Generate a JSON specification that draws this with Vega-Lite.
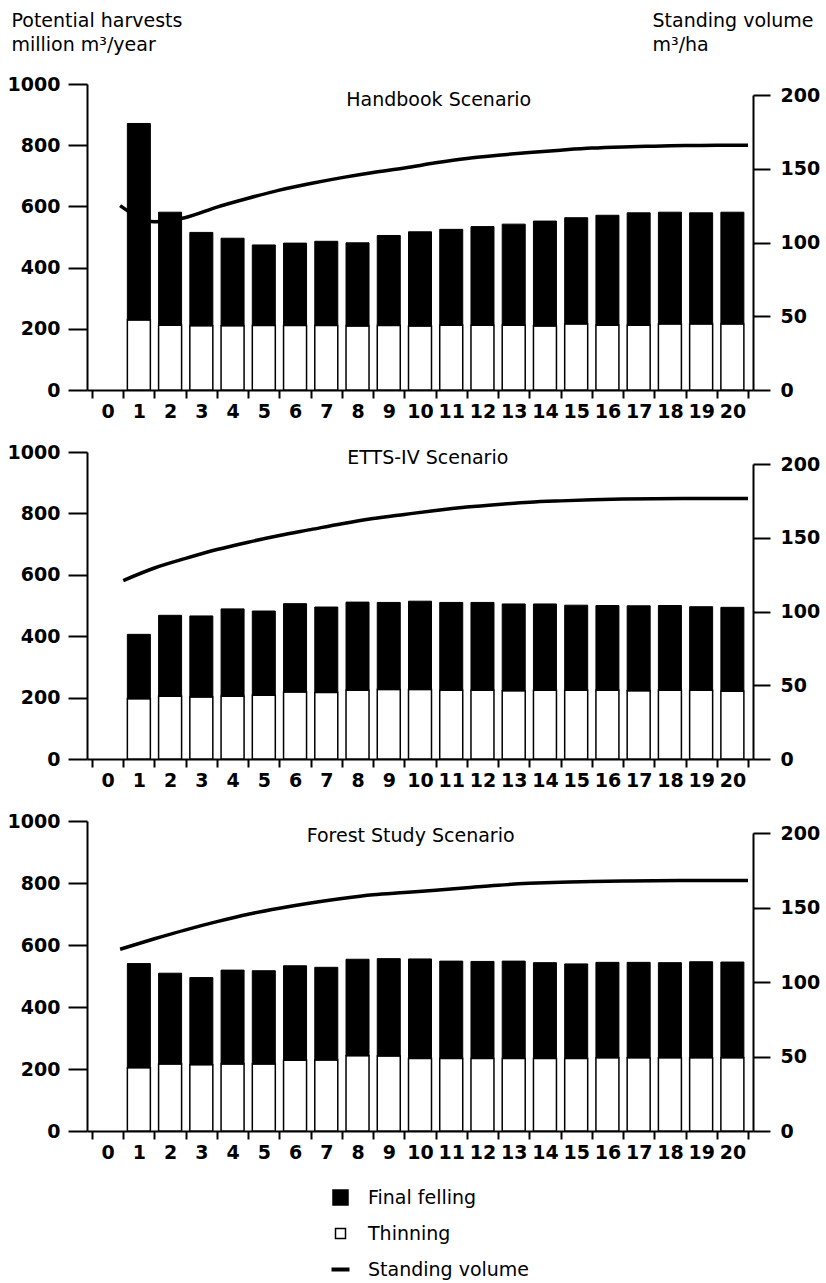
{
  "$schema": "https://vega.github.io/schema/vega-lite/v6.json",
  "padding": {"left": 7, "top": 11, "right": 5, "bottom": 5},
  "datasets": {
    "bars": [
      {"scenario": "Handbook Scenario", "period": 1, "thinning": 229, "total": 871},
      {"scenario": "Handbook Scenario", "period": 2, "thinning": 212, "total": 581},
      {"scenario": "Handbook Scenario", "period": 3, "thinning": 210, "total": 515},
      {"scenario": "Handbook Scenario", "period": 4, "thinning": 210, "total": 496},
      {"scenario": "Handbook Scenario", "period": 5, "thinning": 211, "total": 474},
      {"scenario": "Handbook Scenario", "period": 6, "thinning": 211, "total": 480},
      {"scenario": "Handbook Scenario", "period": 7, "thinning": 211, "total": 486},
      {"scenario": "Handbook Scenario", "period": 8, "thinning": 209, "total": 481},
      {"scenario": "Handbook Scenario", "period": 9, "thinning": 211, "total": 505},
      {"scenario": "Handbook Scenario", "period": 10, "thinning": 209, "total": 517},
      {"scenario": "Handbook Scenario", "period": 11, "thinning": 212, "total": 525},
      {"scenario": "Handbook Scenario", "period": 12, "thinning": 212, "total": 534},
      {"scenario": "Handbook Scenario", "period": 13, "thinning": 212, "total": 542},
      {"scenario": "Handbook Scenario", "period": 14, "thinning": 209, "total": 552},
      {"scenario": "Handbook Scenario", "period": 15, "thinning": 216, "total": 563},
      {"scenario": "Handbook Scenario", "period": 16, "thinning": 212, "total": 571},
      {"scenario": "Handbook Scenario", "period": 17, "thinning": 212, "total": 579},
      {"scenario": "Handbook Scenario", "period": 18, "thinning": 216, "total": 581},
      {"scenario": "Handbook Scenario", "period": 19, "thinning": 216, "total": 579},
      {"scenario": "Handbook Scenario", "period": 20, "thinning": 216, "total": 581},
      {"scenario": "ETTS-IV Scenario", "period": 1, "thinning": 196, "total": 406},
      {"scenario": "ETTS-IV Scenario", "period": 2, "thinning": 204, "total": 468},
      {"scenario": "ETTS-IV Scenario", "period": 3, "thinning": 202, "total": 466},
      {"scenario": "ETTS-IV Scenario", "period": 4, "thinning": 204, "total": 489},
      {"scenario": "ETTS-IV Scenario", "period": 5, "thinning": 208, "total": 482},
      {"scenario": "ETTS-IV Scenario", "period": 6, "thinning": 218, "total": 506},
      {"scenario": "ETTS-IV Scenario", "period": 7, "thinning": 217, "total": 495},
      {"scenario": "ETTS-IV Scenario", "period": 8, "thinning": 224, "total": 511},
      {"scenario": "ETTS-IV Scenario", "period": 9, "thinning": 226, "total": 510},
      {"scenario": "ETTS-IV Scenario", "period": 10, "thinning": 226, "total": 514},
      {"scenario": "ETTS-IV Scenario", "period": 11, "thinning": 224, "total": 510},
      {"scenario": "ETTS-IV Scenario", "period": 12, "thinning": 224, "total": 510},
      {"scenario": "ETTS-IV Scenario", "period": 13, "thinning": 222, "total": 505},
      {"scenario": "ETTS-IV Scenario", "period": 14, "thinning": 224, "total": 505},
      {"scenario": "ETTS-IV Scenario", "period": 15, "thinning": 224, "total": 501},
      {"scenario": "ETTS-IV Scenario", "period": 16, "thinning": 224, "total": 500},
      {"scenario": "ETTS-IV Scenario", "period": 17, "thinning": 222, "total": 499},
      {"scenario": "ETTS-IV Scenario", "period": 18, "thinning": 224, "total": 500},
      {"scenario": "ETTS-IV Scenario", "period": 19, "thinning": 224, "total": 496},
      {"scenario": "ETTS-IV Scenario", "period": 20, "thinning": 221, "total": 494},
      {"scenario": "Forest Study Scenario", "period": 1, "thinning": 204, "total": 540},
      {"scenario": "Forest Study Scenario", "period": 2, "thinning": 216, "total": 509},
      {"scenario": "Forest Study Scenario", "period": 3, "thinning": 214, "total": 495},
      {"scenario": "Forest Study Scenario", "period": 4, "thinning": 216, "total": 519},
      {"scenario": "Forest Study Scenario", "period": 5, "thinning": 216, "total": 517},
      {"scenario": "Forest Study Scenario", "period": 6, "thinning": 228, "total": 533},
      {"scenario": "Forest Study Scenario", "period": 7, "thinning": 229, "total": 528},
      {"scenario": "Forest Study Scenario", "period": 8, "thinning": 243, "total": 554},
      {"scenario": "Forest Study Scenario", "period": 9, "thinning": 242, "total": 556},
      {"scenario": "Forest Study Scenario", "period": 10, "thinning": 234, "total": 555},
      {"scenario": "Forest Study Scenario", "period": 11, "thinning": 234, "total": 548},
      {"scenario": "Forest Study Scenario", "period": 12, "thinning": 234, "total": 547},
      {"scenario": "Forest Study Scenario", "period": 13, "thinning": 234, "total": 548},
      {"scenario": "Forest Study Scenario", "period": 14, "thinning": 234, "total": 543},
      {"scenario": "Forest Study Scenario", "period": 15, "thinning": 234, "total": 539},
      {"scenario": "Forest Study Scenario", "period": 16, "thinning": 236, "total": 544},
      {"scenario": "Forest Study Scenario", "period": 17, "thinning": 236, "total": 544},
      {"scenario": "Forest Study Scenario", "period": 18, "thinning": 236, "total": 543},
      {"scenario": "Forest Study Scenario", "period": 19, "thinning": 236, "total": 546},
      {"scenario": "Forest Study Scenario", "period": 20, "thinning": 236, "total": 545}
    ],
    "volume": [
      {"scenario": "Handbook Scenario", "t": 0.4, "volume": 125},
      {"scenario": "Handbook Scenario", "t": 1.5, "volume": 114},
      {"scenario": "Handbook Scenario", "t": 2.5, "volume": 117},
      {"scenario": "Handbook Scenario", "t": 3.5, "volume": 124},
      {"scenario": "Handbook Scenario", "t": 4.5, "volume": 130},
      {"scenario": "Handbook Scenario", "t": 5.5, "volume": 135.5},
      {"scenario": "Handbook Scenario", "t": 6.5, "volume": 140},
      {"scenario": "Handbook Scenario", "t": 7.5, "volume": 144},
      {"scenario": "Handbook Scenario", "t": 8.5, "volume": 147.5},
      {"scenario": "Handbook Scenario", "t": 9.5, "volume": 150.5},
      {"scenario": "Handbook Scenario", "t": 10.5, "volume": 154},
      {"scenario": "Handbook Scenario", "t": 11.5, "volume": 157},
      {"scenario": "Handbook Scenario", "t": 12.5, "volume": 159.2},
      {"scenario": "Handbook Scenario", "t": 13.5, "volume": 161},
      {"scenario": "Handbook Scenario", "t": 14.5, "volume": 162.6},
      {"scenario": "Handbook Scenario", "t": 15.5, "volume": 164},
      {"scenario": "Handbook Scenario", "t": 16.5, "volume": 164.8},
      {"scenario": "Handbook Scenario", "t": 17.5, "volume": 165.3},
      {"scenario": "Handbook Scenario", "t": 18.5, "volume": 165.7},
      {"scenario": "Handbook Scenario", "t": 19.5, "volume": 166},
      {"scenario": "Handbook Scenario", "t": 20.5, "volume": 166},
      {"scenario": "ETTS-IV Scenario", "t": 0.5, "volume": 121},
      {"scenario": "ETTS-IV Scenario", "t": 1.5, "volume": 129.5},
      {"scenario": "ETTS-IV Scenario", "t": 2.5, "volume": 136},
      {"scenario": "ETTS-IV Scenario", "t": 3.5, "volume": 142},
      {"scenario": "ETTS-IV Scenario", "t": 4.5, "volume": 147},
      {"scenario": "ETTS-IV Scenario", "t": 5.5, "volume": 151.5},
      {"scenario": "ETTS-IV Scenario", "t": 6.5, "volume": 155.5},
      {"scenario": "ETTS-IV Scenario", "t": 7.5, "volume": 159.5},
      {"scenario": "ETTS-IV Scenario", "t": 8.5, "volume": 163},
      {"scenario": "ETTS-IV Scenario", "t": 9.5, "volume": 165.8},
      {"scenario": "ETTS-IV Scenario", "t": 10.5, "volume": 168.5},
      {"scenario": "ETTS-IV Scenario", "t": 11.5, "volume": 170.8},
      {"scenario": "ETTS-IV Scenario", "t": 12.5, "volume": 172.6},
      {"scenario": "ETTS-IV Scenario", "t": 13.5, "volume": 174.1},
      {"scenario": "ETTS-IV Scenario", "t": 14.5, "volume": 175},
      {"scenario": "ETTS-IV Scenario", "t": 15.5, "volume": 175.7},
      {"scenario": "ETTS-IV Scenario", "t": 16.5, "volume": 176.2},
      {"scenario": "ETTS-IV Scenario", "t": 17.5, "volume": 176.5},
      {"scenario": "ETTS-IV Scenario", "t": 18.5, "volume": 176.6},
      {"scenario": "ETTS-IV Scenario", "t": 19.5, "volume": 176.6},
      {"scenario": "ETTS-IV Scenario", "t": 20.5, "volume": 176.6},
      {"scenario": "Forest Study Scenario", "t": 0.4, "volume": 122},
      {"scenario": "Forest Study Scenario", "t": 1.5, "volume": 129},
      {"scenario": "Forest Study Scenario", "t": 2.5, "volume": 135},
      {"scenario": "Forest Study Scenario", "t": 3.5, "volume": 140.5},
      {"scenario": "Forest Study Scenario", "t": 4.5, "volume": 145.5},
      {"scenario": "Forest Study Scenario", "t": 5.5, "volume": 149.5},
      {"scenario": "Forest Study Scenario", "t": 6.5, "volume": 153},
      {"scenario": "Forest Study Scenario", "t": 7.5, "volume": 156},
      {"scenario": "Forest Study Scenario", "t": 8.5, "volume": 158.5},
      {"scenario": "Forest Study Scenario", "t": 9.5, "volume": 160},
      {"scenario": "Forest Study Scenario", "t": 10.5, "volume": 161.5},
      {"scenario": "Forest Study Scenario", "t": 11.5, "volume": 163.3},
      {"scenario": "Forest Study Scenario", "t": 12.5, "volume": 165},
      {"scenario": "Forest Study Scenario", "t": 13.5, "volume": 166.2},
      {"scenario": "Forest Study Scenario", "t": 14.5, "volume": 167},
      {"scenario": "Forest Study Scenario", "t": 15.5, "volume": 167.4},
      {"scenario": "Forest Study Scenario", "t": 16.5, "volume": 167.8},
      {"scenario": "Forest Study Scenario", "t": 17.5, "volume": 168},
      {"scenario": "Forest Study Scenario", "t": 18.5, "volume": 168.1},
      {"scenario": "Forest Study Scenario", "t": 19.5, "volume": 168.1},
      {"scenario": "Forest Study Scenario", "t": 20.5, "volume": 168.1}
    ]
  },
  "vconcat": [
    {
      "width": 666,
      "height": 306,
      "resolve": {"scale": {"y": "independent"}},
      "layer": [
        {
          "layer": [
            {
              "data": {"name": "bars"},
              "transform": [{"filter": "datum.scenario === 'Handbook Scenario'"}],
              "mark": {"type": "bar", "width": 23, "stroke": "black", "strokeWidth": 1.5},
              "encoding": {
                "x": {"field": "period", "type": "quantitative", "scale": {"domain": [-0.5, 20.5], "nice": false, "zero": false},
                  "axis": {"title": null, "values": [-0.5,0,0.5,1,1.5,2,2.5,3,3.5,4,4.5,5,5.5,6,6.5,7,7.5,8,8.5,9,9.5,10,10.5,11,11.5,12,12.5,13,13.5,14,14.5,15,15.5,16,16.5,17,17.5,18,18.5,19,19.5,20,20.5],
                    "tickCount": 100,
                    "labelExpr": "datum.value % 1 === 0 ? format(datum.value, 'd') : ''",
                    "tickOpacity": {"condition": {"test": "datum.value % 1 !== 0", "value": 1}, "value": 0},
                    "tickSize": 8, "labelPadding": 4, "labelOverlap": false, "labelFlush": false, "labelBound": false}},
                "y": {"field": "thinning", "type": "quantitative", "scale": {"domain": [0, 1000], "nice": false},
                  "axis": {"values": [0, 200, 400, 600, 800, 1000], "format": "d", "tickSize": 19, "labelPadding": 8,
                    "title": ["Potential harvests", "million m³/year"], "titleAngle": 0, "titleAlign": "left", "titleBaseline": "alphabetic", "titleX": -76, "titleY": -58, "titleLineHeight": 24}},
                "fill": {"datum": "Thinning", "type": "nominal",
                  "scale": {"domain": ["Final felling", "Thinning", "Standing volume"], "range": ["black", "white", "black"]},
                  "legend": {"title": null, "orient": "none", "legendX": 244, "legendY": 1104, "direction": "vertical",
                    "labelFont": "DejaVu Sans", "labelFontSize": 19, "labelColor": "black", "labelOffset": 18, "rowPadding": 16, "labelLimit": 400,
                    "symbolStrokeColor": "black", "symbolStrokeWidth": 1.5, "symbolType": "square", "symbolSize": 225,
                    "encode": {"symbols": {"update": {
                      "shape": {"signal": "datum.value === 'Standing volume' ? 'stroke' : 'square'"},
                      "size": {"signal": "datum.value === 'Thinning' ? 100 : datum.value === 'Final felling' ? 225 : 324"},
                      "strokeWidth": {"signal": "datum.value === 'Standing volume' ? 4 : 1.5"},
                      "stroke": {"value": "black"}}}}}}
              }
            },
            {
              "data": {"name": "bars"},
              "transform": [{"filter": "datum.scenario === 'Handbook Scenario'"}],
              "mark": {"type": "bar", "width": 23, "stroke": "black", "strokeWidth": 1},
              "encoding": {
                "x": {"field": "period", "type": "quantitative"},
                "y": {"field": "thinning", "type": "quantitative"},
                "y2": {"field": "total"},
                "fill": {"datum": "Final felling", "type": "nominal"}
              }
            },
            {
              "data": {"values": [{"scenario": "Handbook Scenario"}]},
              "mark": {"type": "text", "font": "DejaVu Sans", "fontSize": 19, "align": "center", "baseline": "alphabetic", "color": "black"},
              "encoding": {
                "x": {"datum": 10.6, "type": "quantitative"},
                "y": {"datum": 928, "type": "quantitative"},
                "text": {"field": "scenario"}
              }
            }
          ]
        },
        {
          "data": {"name": "volume"},
          "transform": [{"filter": "datum.scenario === 'Handbook Scenario'"}],
          "mark": {"type": "line", "color": "black", "strokeWidth": 3.5, "interpolate": "monotone"},
          "encoding": {
            "x": {"field": "t", "type": "quantitative"},
            "y": {"field": "volume", "type": "quantitative", "scale": {"domain": [0, 200], "range": [306, 11], "nice": false},
              "axis": {"orient": "right", "values": [0, 50, 100, 150, 200], "tickSize": 17, "labelPadding": 10,
                "title": ["Standing volume", "m³/ha"], "titleAngle": 0, "titleAlign": "left", "titleBaseline": "alphabetic", "titleX": -101, "titleY": -58, "titleLineHeight": 24}}
          }
        }
      ]
    },
    {
      "width": 666,
      "height": 307,
      "resolve": {"scale": {"y": "independent"}},
      "layer": [
        {
          "layer": [
            {
              "data": {"name": "bars"},
              "transform": [{"filter": "datum.scenario === 'ETTS-IV Scenario'"}],
              "mark": {"type": "bar", "width": 23, "stroke": "black", "strokeWidth": 1.5},
              "encoding": {
                "x": {"field": "period", "type": "quantitative", "scale": {"domain": [-0.5, 20.5], "nice": false, "zero": false},
                  "axis": {"title": null, "values": [-0.5,0,0.5,1,1.5,2,2.5,3,3.5,4,4.5,5,5.5,6,6.5,7,7.5,8,8.5,9,9.5,10,10.5,11,11.5,12,12.5,13,13.5,14,14.5,15,15.5,16,16.5,17,17.5,18,18.5,19,19.5,20,20.5],
                    "tickCount": 100,
                    "labelExpr": "datum.value % 1 === 0 ? format(datum.value, 'd') : ''",
                    "tickOpacity": {"condition": {"test": "datum.value % 1 !== 0", "value": 1}, "value": 0},
                    "tickSize": 8, "labelPadding": 4, "labelOverlap": false, "labelFlush": false, "labelBound": false}},
                "y": {"field": "thinning", "type": "quantitative", "scale": {"domain": [0, 1000], "nice": false},
                  "axis": {"values": [0, 200, 400, 600, 800, 1000], "format": "d", "tickSize": 19, "labelPadding": 8, "title": null}},
                "fill": {"datum": "Thinning", "type": "nominal"}
              }
            },
            {
              "data": {"name": "bars"},
              "transform": [{"filter": "datum.scenario === 'ETTS-IV Scenario'"}],
              "mark": {"type": "bar", "width": 23, "stroke": "black", "strokeWidth": 1},
              "encoding": {
                "x": {"field": "period", "type": "quantitative"},
                "y": {"field": "thinning", "type": "quantitative"},
                "y2": {"field": "total"},
                "fill": {"datum": "Final felling", "type": "nominal"}
              }
            },
            {
              "data": {"values": [{"scenario": "ETTS-IV Scenario"}]},
              "mark": {"type": "text", "font": "DejaVu Sans", "fontSize": 19, "align": "center", "baseline": "alphabetic", "color": "black"},
              "encoding": {
                "x": {"datum": 10.25, "type": "quantitative"},
                "y": {"datum": 962, "type": "quantitative"},
                "text": {"field": "scenario"}
              }
            }
          ]
        },
        {
          "data": {"name": "volume"},
          "transform": [{"filter": "datum.scenario === 'ETTS-IV Scenario'"}],
          "mark": {"type": "line", "color": "black", "strokeWidth": 3.5, "interpolate": "monotone"},
          "encoding": {
            "x": {"field": "t", "type": "quantitative"},
            "y": {"field": "volume", "type": "quantitative", "scale": {"domain": [0, 200], "range": [307, 12], "nice": false},
              "axis": {"orient": "right", "values": [0, 50, 100, 150, 200], "tickSize": 17, "labelPadding": 10, "title": null}}
          }
        }
      ]
    },
    {
      "width": 666,
      "height": 310,
      "resolve": {"scale": {"y": "independent"}},
      "layer": [
        {
          "layer": [
            {
              "data": {"name": "bars"},
              "transform": [{"filter": "datum.scenario === 'Forest Study Scenario'"}],
              "mark": {"type": "bar", "width": 23, "stroke": "black", "strokeWidth": 1.5},
              "encoding": {
                "x": {"field": "period", "type": "quantitative", "scale": {"domain": [-0.5, 20.5], "nice": false, "zero": false},
                  "axis": {"title": null, "values": [-0.5,0,0.5,1,1.5,2,2.5,3,3.5,4,4.5,5,5.5,6,6.5,7,7.5,8,8.5,9,9.5,10,10.5,11,11.5,12,12.5,13,13.5,14,14.5,15,15.5,16,16.5,17,17.5,18,18.5,19,19.5,20,20.5],
                    "tickCount": 100,
                    "labelExpr": "datum.value % 1 === 0 ? format(datum.value, 'd') : ''",
                    "tickOpacity": {"condition": {"test": "datum.value % 1 !== 0", "value": 1}, "value": 0},
                    "tickSize": 8, "labelPadding": 4, "labelOverlap": false, "labelFlush": false, "labelBound": false}},
                "y": {"field": "thinning", "type": "quantitative", "scale": {"domain": [0, 1000], "nice": false},
                  "axis": {"values": [0, 200, 400, 600, 800, 1000], "format": "d", "tickSize": 19, "labelPadding": 8, "title": null}},
                "fill": {"datum": "Thinning", "type": "nominal"}
              }
            },
            {
              "data": {"name": "bars"},
              "transform": [{"filter": "datum.scenario === 'Forest Study Scenario'"}],
              "mark": {"type": "bar", "width": 23, "stroke": "black", "strokeWidth": 1},
              "encoding": {
                "x": {"field": "period", "type": "quantitative"},
                "y": {"field": "thinning", "type": "quantitative"},
                "y2": {"field": "total"},
                "fill": {"datum": "Final felling", "type": "nominal"}
              }
            },
            {
              "data": {"values": [{"scenario": "Forest Study Scenario"}]},
              "mark": {"type": "text", "font": "DejaVu Sans", "fontSize": 19, "align": "center", "baseline": "alphabetic", "color": "black"},
              "encoding": {
                "x": {"datum": 9.7, "type": "quantitative"},
                "y": {"datum": 932, "type": "quantitative"},
                "text": {"field": "scenario"}
              }
            }
          ]
        },
        {
          "data": {"name": "volume"},
          "transform": [{"filter": "datum.scenario === 'Forest Study Scenario'"}],
          "mark": {"type": "line", "color": "black", "strokeWidth": 3.5, "interpolate": "monotone"},
          "encoding": {
            "x": {"field": "t", "type": "quantitative"},
            "y": {"field": "volume", "type": "quantitative", "scale": {"domain": [0, 200], "range": [310, 12], "nice": false},
              "axis": {"orient": "right", "values": [0, 50, 100, 150, 200], "tickSize": 17, "labelPadding": 10, "title": null}}
          }
        }
      ]
    }
  ],
  "spacing": 62,
  "bounds": "flush",
  "config": {
    "view": {"stroke": null},
    "font": "DejaVu Sans",
    "axis": {"domainColor": "black", "domainWidth": 2, "tickColor": "black", "tickWidth": 2, "labelColor": "black", "labelFont": "DejaVu Sans", "labelFontSize": 19, "labelFontWeight": "bold", "titleFont": "DejaVu Sans", "titleFontSize": 19, "titleFontWeight": "normal", "titleColor": "black", "grid": false}
  }
}
